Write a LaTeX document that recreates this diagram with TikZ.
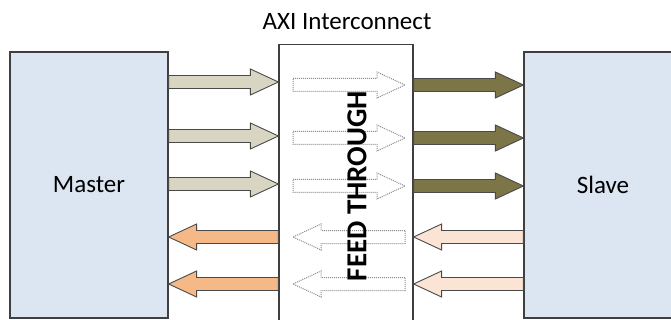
\documentclass[tikz,border=0pt]{standalone}
\usepackage{fontspec}
\setmainfont{Carlito}
\usetikzlibrary{calc}
\definecolor{boxfill}{HTML}{DCE6F2}
\definecolor{boxline}{HTML}{3F3F3F}
\definecolor{khaki}{HTML}{D8D5C2}
\definecolor{olivedk}{HTML}{7B7547}
\definecolor{orangeA}{HTML}{F5B988}
\definecolor{peach}{HTML}{FCE4D5}
\definecolor{arrline}{HTML}{4A4A4A}
\definecolor{feedline}{HTML}{8C8C8C}
% #1 style, #2 tail, #3 tip, #4 signed head offset (-28 right-pointing, 28 left-pointing)
\newcommand\blkarr[4]{%
  \path[#1] ($(#2)+(0,-6.5)$) -- ($(#3)+(#4,-6.5)$) -- ($(#3)+(#4,-13)$)
   -- (#3) -- ($(#3)+(#4,13)$) -- ($(#3)+(#4,6.5)$) -- ($(#2)+(0,6.5)$) -- cycle;}
\tikzset{
  blockbox/.style={draw=boxline, line width=1.2pt, fill=boxfill, inner sep=0pt,
     font=\fontsize{25}{28}\selectfont},
  icbox/.style={draw=boxline, line width=1.2pt, fill=white, inner sep=0pt},
  arrIn/.style={fill=khaki, draw=arrline, line width=0.9pt},
  arrOut/.style={fill=olivedk, draw=arrline, line width=0.9pt},
  arrBack/.style={fill=orangeA, draw=arrline, line width=0.9pt},
  arrSlv/.style={fill=peach, draw=arrline, line width=0.9pt},
  arrFeed/.style={fill=white, draw=feedline, densely dotted, line width=1pt},
}
\begin{document}
\begin{tikzpicture}[x=1pt,y=-1pt]
\useasboundingbox (0,0) rectangle (671,320);
\clip (0,0) rectangle (671,320);
\fill[white] (0,0) rectangle (671,320);
% boxes
\node[blockbox, minimum width=158pt, minimum height=266pt] (master) at (89,185) {Master};
\node[blockbox, minimum width=158pt, minimum height=266pt] (slave) at (603,185) {Slave};
\node[icbox, minimum width=134pt, minimum height=300pt, anchor=north] (ic) at (346,44) {};
\node[font=\fontsize{25}{28}\selectfont] (title) at (347,22) {AXI Interconnect};
% named end points
\foreach \i/\y in {1/82,2/136,3/184} {
  \coordinate (mo\i) at (master.east |- 0,\y);
  \coordinate (ii\i) at (ic.west |- 0,\y);
}
\foreach \i/\y in {1/85,2/138,3/186} {
  \coordinate (fa\i) at (293,\y);
  \coordinate (fb\i) at (405,\y);
  \coordinate (io\i) at (ic.east |- 0,\y);
  \coordinate (si\i) at (slave.west |- 0,\y);
}
\foreach \i/\y in {4/237,5/284} {
  \coordinate (fa\i) at (293,\y);
  \coordinate (fb\i) at (405,\y);
  \coordinate (so\i) at (slave.west |- 0,\y);
  \coordinate (ie\i) at (ic.east |- 0,\y);
  \coordinate (iw\i) at (ic.west |- 0,\y);
  \coordinate (mi\i) at (master.east |- 0,\y);
}
% master -> interconnect
\foreach \i in {1,2,3} { \blkarr{arrIn}{mo\i}{ii\i}{-28} }
% feed-through right
\foreach \i in {1,2,3} { \blkarr{arrFeed}{fa\i}{fb\i}{-28} }
% interconnect -> slave
\foreach \i in {1,2,3} { \blkarr{arrOut}{io\i}{si\i}{-28} }
% slave -> interconnect
\foreach \i in {4,5} { \blkarr{arrSlv}{so\i}{ie\i}{28} }
% feed-through left
\foreach \i in {4,5} { \blkarr{arrFeed}{fb\i}{fa\i}{28} }
% interconnect -> master
\foreach \i in {4,5} { \blkarr{arrBack}{iw\i}{mi\i}{28} }
% label
\node[rotate=90, font=\fontsize{29}{32}\selectfont\bfseries] (ft) at (357,186) {FEED THROUGH};
\end{tikzpicture}
\end{document}
